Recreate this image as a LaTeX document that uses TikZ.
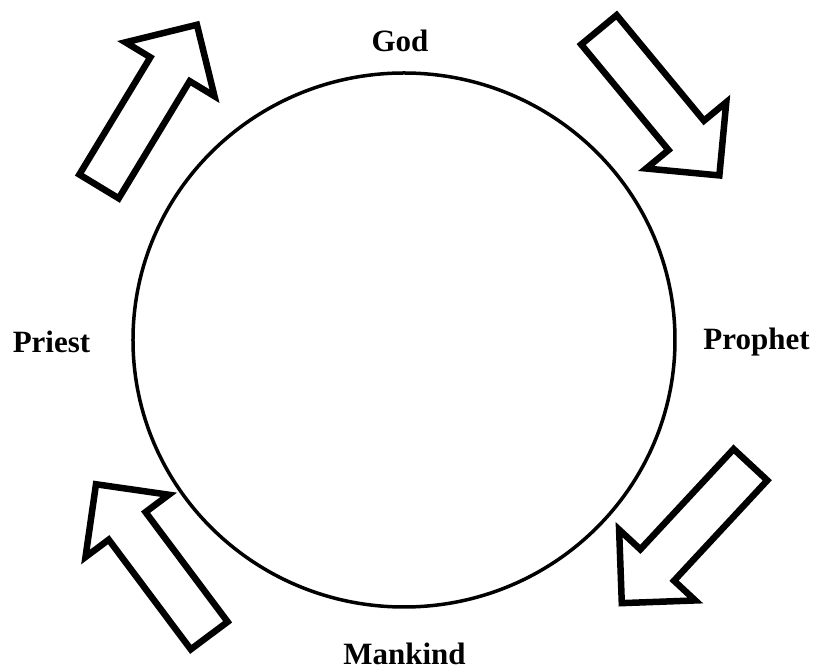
\documentclass[tikz,border=0pt]{standalone}
\usepackage{fontspec}
\setmainfont{Liberation Serif}
\usepackage{tikz}
\usetikzlibrary{positioning}

\tikzset{
    role/.style={font=\bfseries\fontsize{31}{37}\selectfont, inner sep=0pt, anchor=base},
    fatarrow/.pic={
        \draw[line width=6.5pt, miter limit=4]
            (3,-23) -- (140,-23) -- (140,-52) -- (192,0) -- (140,52) -- (140,23) -- (3,23) -- cycle;
    }
}

\begin{document}
\begin{tikzpicture}[x=1pt, y=1pt]
    \useasboundingbox (-404,-331) rectangle (411,340);

    % the ring
    \draw[line width=3.5pt] (0,0) ellipse [x radius=271, y radius=267];

    % the four roles
    \node[role] (god)     at (-4,288)     {God};
    \node[role] (prophet) at (352.5,-10)  {Prophet};
    \node[role] (mankind) at (0.5,-325)   {Mankind};
    \node[role] (priest)  at (-352.5,-13) {Priest};

    % block arrows around the ring
    \pic[rotate=58.8]   at (-306.5,151)  {fatarrow};
    \pic[rotate=-50.4]  at (193,312.5)   {fatarrow};
    \pic[rotate=-132.9] at (348.5,-122.5) {fatarrow};
    \pic[rotate=126.8]  at (-193,-298)   {fatarrow};

\end{tikzpicture}
\end{document}
